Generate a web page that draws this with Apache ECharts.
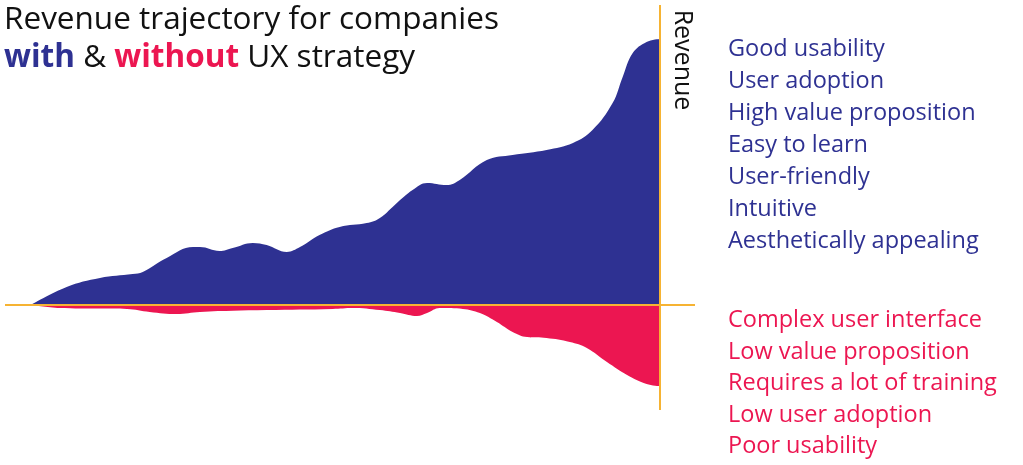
<!DOCTYPE html>
<html>
<head>
<meta charset="utf-8">
<script src="https://cdn.jsdelivr.net/npm/echarts@6/dist/echarts.min.js"></script>
<style>
  html, body { margin: 0; padding: 0; background: #fff; }
  #chart { width: 1023px; height: 465px; }
</style>
</head>
<body>
<div id="chart"></div>
<script>
// time steps (0 = start, 100 = today) and revenue levels
var withSteps = [0, 5.7, 11, 16.2, 17.8, 21.6, 25.8, 26.9, 30, 32.1, 35.3, 37.5, 40.7, 42.8, 45.9, 49.1, 53.4, 55.5, 58.2, 60.7, 63, 66.1, 68.2, 72.5, 76.6, 82, 86.2, 89.3, 92.5, 94.1, 95.7, 97.9, 100];
var withUx = [0, 6, 9, 10.3, 11, 15.7, 19.3, 19.3, 18, 19, 20.7, 20, 17.7, 19.3, 23.3, 26, 27.3, 29, 34, 38.3, 40.7, 40, 41.7, 48.3, 50, 51.7, 54, 58.3, 67.3, 76, 84, 87.7, 88.7];

var withoutSteps = [0, 4.6, 11, 15.3, 18.9, 23.2, 26.9, 37.5, 48, 51.2, 55.5, 58.7, 61.4, 63, 65, 68.7, 71.4, 74.1, 76.6, 78.9, 82, 85.7, 88.4, 91.6, 94.8, 97.9, 100];
var withoutUx = [0, -1, -1.2, -1.3, -2.3, -3, -2.3, -1.7, -1.3, -1, -1.7, -2.7, -3.7, -2.7, -1, -1.3, -2.7, -5.7, -9, -10.7, -11, -12.3, -14.3, -19, -23.3, -26.3, -27];

var goodTraits = ['Good usability', 'User adoption', 'High value proposition', 'Easy to learn', 'User-friendly', 'Intuitive', 'Aesthetically appealing'];
var badTraits = ['Complex user interface', 'Low value proposition', 'Requires a lot of training', 'Low user adoption', 'Poor usability'];

var blue = '#2E3192';
var red = '#EC1651';
var orange = '#F6B333';
var font = '"Open Sans", Lato, sans-serif';

function pairs(xs, ys) {
    return xs.map(function (x, i) { return [x, ys[i]]; });
}

var myChart = echarts.init(document.getElementById('chart'));

var option = {
    animation: false,
    grid: { left: 5, right: 328, top: 5, bottom: 55 },
    xAxis: {
        type: 'value', min: -4.1, max: 105.6,
        show: false
    },
    yAxis: {
        type: 'value', min: -35, max: 100,
        show: false
    },
    series: [
        {
            name: 'with UX strategy',
            type: 'line',
            data: pairs(withSteps, withUx),
            smooth: 0.4,
            symbol: 'none',
            lineStyle: { width: 0 },
            areaStyle: { color: blue, opacity: 1 },
            z: 2
        },
        {
            name: 'without UX strategy',
            type: 'line',
            data: pairs(withoutSteps, withoutUx),
            smooth: 0.4,
            symbol: 'none',
            lineStyle: { width: 0 },
            areaStyle: { color: red, opacity: 1 },
            z: 2,
            markLine: {
                silent: true,
                symbol: 'none',
                label: { show: false },
                lineStyle: { color: orange, width: 2, type: 'solid' },
                data: [
                    [{ coord: [-4.1, 0] }, { coord: [105.6, 0] }],
                    [{ coord: [100, 100] }, { coord: [100, -35] }]
                ]
            }
        }
    ],
    graphic: [
        {
            type: 'text', left: 4, top: 1,
            style: {
                text: 'Revenue trajectory for companies\n{b|with} & {r|without} UX strategy',
                font: '31.5px ' + font,
                fill: '#111',
                lineHeight: 38,
                rich: {
                    b: { fill: blue, fontWeight: 'bold', fontSize: 31.5, fontFamily: 'Open Sans' },
                    r: { fill: red, fontWeight: 'bold', fontSize: 31.5, fontFamily: 'Open Sans' }
                }
            }
        },
        {
            type: 'text',
            x: 682, y: 60,
            rotation: -Math.PI / 2,
            style: {
                text: 'Revenue',
                font: '25px ' + font,
                fill: '#111',
                align: 'center',
                verticalAlign: 'middle'
            }
        },
        {
            type: 'text', left: 728, top: 33,
            style: {
                text: goodTraits.join('\n'),
                font: '23.5px ' + font,
                fill: blue,
                lineHeight: 32
            }
        },
        {
            type: 'text', left: 728, top: 305,
            style: {
                text: badTraits.join('\n'),
                font: '23.5px ' + font,
                fill: red,
                lineHeight: 31.5
            }
        }
    ]
};

myChart.setOption(option);
</script>
</body>
</html>
